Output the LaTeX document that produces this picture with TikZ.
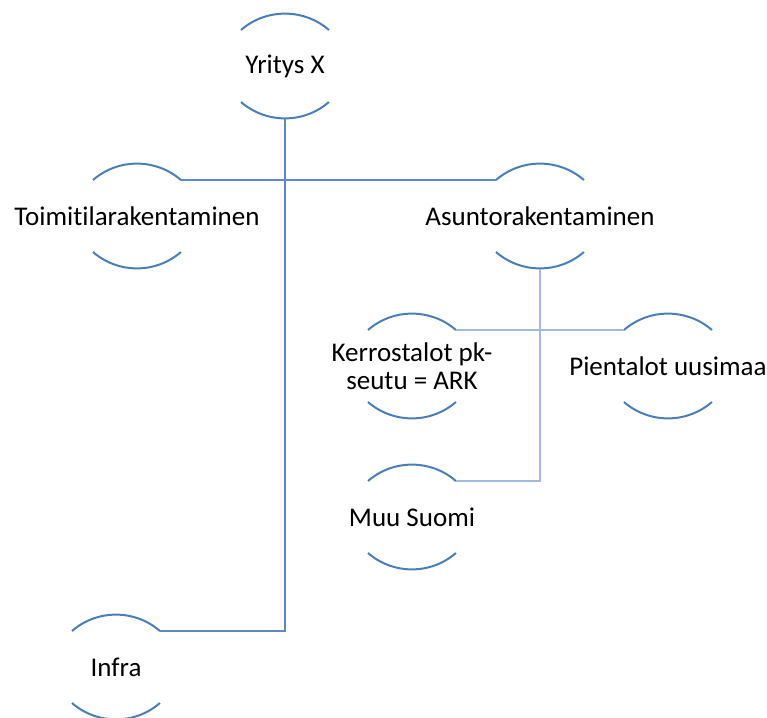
\documentclass[tikz,border=0pt]{standalone}
\usepackage{fontspec}
\setmainfont{Carlito}[Ligatures=NoCommon]
\usepackage{xcolor}
\usepackage{tikz}
\usetikzlibrary{calc}

\definecolor{arcblue}{HTML}{4A7EBB}
\definecolor{linkdark}{HTML}{5F88CC}
\definecolor{linklight}{HTML}{A3B9E0}

\begin{document}
\begin{tikzpicture}[
    x=0.5pt, y=0.5pt,
    unit/.style={rectangle, inner sep=0pt, minimum height=52.5pt, align=center, font=\fontsize{13.5}{14}\selectfont},
    rim/.style={draw=arcblue, line width=1pt},
    link/.style={draw=linkdark, line width=0.9pt},
    sublink/.style={draw=linklight, line width=0.9pt}
]
\useasboundingbox (0,0) rectangle (767,-718);

% Top level
\node[unit] (yritys) at (285,-66) {Yritys X};

% Business lines
\node[unit] (toimitila) at (137,-216) {Toimitilarakentaminen};
\node[unit] (asunto) at (540,-216) {Asuntorakentaminen};
\node[unit] (infra) at (116,-667) {Infra};

% Housing segments
\node[unit] (kerros) at (412,-366) {Kerrostalot pk-\\seutu = ARK};
\node[unit] (pienta) at (668,-366) {Pientalot uusimaa};
\node[unit] (muu) at (412,-517) {Muu Suomi};

% Arcs above and below each unit
\foreach \n in {yritys,toimitila,asunto,infra,kerros,pienta,muu} {
    \draw[rim] ([shift={(-44,36)}]\n.center) arc[start angle=131, end angle=49, radius=67];
    \draw[rim] ([shift={(-44,-36)}]\n.center) arc[start angle=229, end angle=311, radius=67];
}

% Connectors
\draw[link] (yritys.south) |- ([shift={(44,36)}]infra.center);
\draw[link] ([shift={(44,36)}]toimitila.center) -- ([shift={(-44,36)}]asunto.center);

\draw[sublink] (asunto.south) |- ([shift={(44,36)}]muu.center);
\draw[sublink] ([shift={(44,36)}]kerros.center) -- ([shift={(-44,36)}]pienta.center);

\end{tikzpicture}
\end{document}
